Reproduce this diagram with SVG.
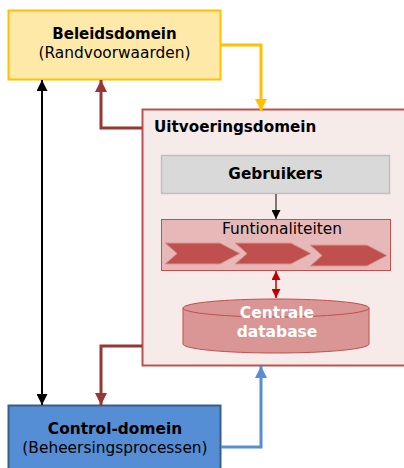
<svg xmlns="http://www.w3.org/2000/svg" width="404" height="468" viewBox="0 0 404 468">
<style>
text{font-family:"DejaVu Sans",Verdana,sans-serif;text-anchor:middle;}
.b{font-weight:bold;}
.t{font-size:15.4px;fill:#000;}
.w{fill:#fff;font-weight:bold;font-size:15.5px;}
.chev{fill:#C0504D;stroke:#D99694;stroke-width:1;}
</style>
<defs>
<marker id="aY" markerUnits="userSpaceOnUse" viewBox="0 0 12 12" refX="12" refY="6" markerWidth="12" markerHeight="12" orient="auto"><path d="M0,0 L12,6 L0,12 z" fill="#FFC000"/></marker>
<marker id="aR" markerUnits="userSpaceOnUse" viewBox="0 0 12 12" refX="12" refY="6" markerWidth="12" markerHeight="12" orient="auto"><path d="M0,0 L12,6 L0,12 z" fill="#953735"/></marker>
<marker id="aB" markerUnits="userSpaceOnUse" viewBox="0 0 12 12" refX="12" refY="6" markerWidth="12" markerHeight="12" orient="auto"><path d="M0,0 L12,6 L0,12 z" fill="#558ED5"/></marker>
<marker id="aK" markerUnits="userSpaceOnUse" viewBox="0 0 12 12" refX="12" refY="6" markerWidth="11" markerHeight="11" orient="auto-start-reverse"><path d="M0,0 L12,6 L0,12 z" fill="#000"/></marker>
<marker id="aK2" markerUnits="userSpaceOnUse" viewBox="0 0 10 10" refX="10" refY="5" markerWidth="9" markerHeight="9" orient="auto"><path d="M0,0 L10,5 L0,10 z" fill="#000"/></marker>
<marker id="aD" markerUnits="userSpaceOnUse" viewBox="0 0 10 10" refX="10" refY="5" markerWidth="10" markerHeight="9" orient="auto-start-reverse"><path d="M0,0 L10,5 L0,10 z" fill="#C00000"/></marker>
</defs>

<g id="uitvoeringsdomein">
<rect x="142.5" y="109.5" width="270" height="256" fill="#F7EBEA" stroke="#C0504D" stroke-width="2"/>
<text class="t b" x="154" y="132" style="text-anchor:start;font-size:15.2px">Uitvoeringsdomein</text>
</g>

<g id="beleidsdomein">
<rect x="8.5" y="10.5" width="212" height="69" fill="#FFE9A8" stroke="#FFC000" stroke-width="2"/>
<text class="t b" x="114.5" y="39" style="font-size:15px">Beleidsdomein</text>
<text class="t" x="114.5" y="58">(Randvoorwaarden)</text>
</g>

<g id="control-domein">
<rect x="8.5" y="405.5" width="212" height="70" fill="#558ED5" stroke="#385D8A" stroke-width="2"/>
<text class="t b" x="115" y="434">Control-domein</text>
<text class="t" x="115" y="453">(Beheersingsprocessen)</text>
</g>

<g id="gebruikers">
<rect x="161.5" y="155.5" width="228" height="38" fill="#D9D9D9" stroke="#BFBFBF" stroke-width="1.5"/>
<text class="b" x="275.5" y="179" style="font-size:15.3px">Gebruikers</text>
</g>

<g id="funtionaliteiten">
<rect x="161.5" y="219.5" width="229" height="51" fill="#E6B9B8" stroke="#C0504D" stroke-width="1"/>
<text x="282" y="234" style="font-size:15.4px">Funtionaliteiten</text>
<path class="chev" d="M165,243 H220 L240,253.5 L220,264 H165 L177,253.5 z"/>
<path class="chev" d="M235,243 H291 L311,253.5 L291,264 H235 L247,253.5 z"/>
<path class="chev" d="M310,245 H367 L387,255.5 L367,266 H310 L322,255.5 z"/>
</g>

<g id="centrale-database">
<path d="M183,308 V344 A93,9 0 0 0 369,344 V308" fill="#D99694" stroke="#C0504D" stroke-width="1"/>
<ellipse cx="276" cy="308" rx="93" ry="9" fill="#D99694" stroke="#C0504D" stroke-width="1"/>
<text class="w" x="277" y="318">Centrale</text>
<text class="w" x="277" y="337">database</text>
</g>

<g id="connectors" fill="none">
<path d="M221,45 H261 V111" stroke="#FFC000" stroke-width="3" marker-end="url(#aY)"/>
<path d="M142,128 H101 V80" stroke="#953735" stroke-width="3" marker-end="url(#aR)"/>
<path d="M142,346 H101 V405" stroke="#953735" stroke-width="3" marker-end="url(#aR)"/>
<path d="M221,447 H261 V366" stroke="#558ED5" stroke-width="3" marker-end="url(#aB)"/>
<path d="M42,80 V405" stroke="#000" stroke-width="2" marker-start="url(#aK)" marker-end="url(#aK)"/>
<path d="M276,194 V219" stroke="#000" stroke-width="1" marker-end="url(#aK2)"/>
<path d="M276,271 V298" stroke="#C00000" stroke-width="1.5" marker-start="url(#aD)" marker-end="url(#aD)"/>
</g>
</svg>
